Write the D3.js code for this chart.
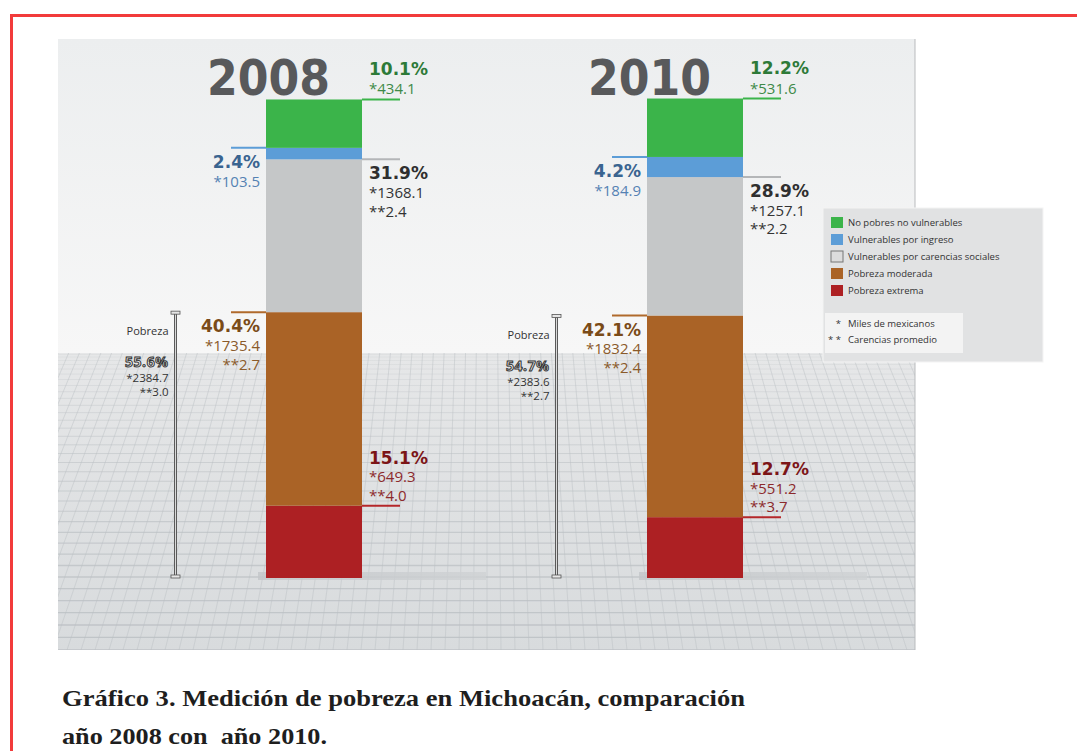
<!DOCTYPE html>
<html>

<head>
  <meta charset="utf-8">
  <script src="https://cdnjs.cloudflare.com/ajax/libs/d3/7.8.5/d3.min.js"></script>
  <style>
    body {
      margin: 0;
      padding: 0;
      background: #fff;
    }

    .pct {
      font-family: "DejaVu Sans", sans-serif;
      font-weight: bold;
      font-size: 17px;
    }

    .sub {
      font-family: "Open Sans", sans-serif;
      font-size: 15px;
    }

    .legend text {
      font-family: "Open Sans", sans-serif;
      font-size: 9.5px;
      fill: #333;
    }

    .caption {
      font-family: "Liberation Serif", "Times New Roman", serif;
      font-weight: bold;
      font-size: 23px;
      fill: #1e1e1e;
      white-space: pre;
    }
  </style>
</head>

<body>
  <svg width="1077" height="751"></svg>
  <script>
    //chart data
    const years = ["2008", "2010"];
    const categories = ["No pobres no vulnerables", "Vulnerables por ingreso", "Vulnerables por carencias sociales", "Pobreza moderada", "Pobreza extrema"];
    const pct2008 = [10.1, 2.4, 31.9, 40.4, 15.1];
    const pct2010 = [12.2, 4.2, 28.9, 42.1, 12.7];
    const miles2008 = [434.1, 103.5, 1368.1, 1735.4, 649.3];
    const miles2010 = [531.6, 184.9, 1257.1, 1832.4, 551.2];
    const carencias2008 = [null, null, 2.4, 2.7, 4.0];
    const carencias2010 = [null, null, 2.2, 2.4, 3.7];
    const pobrezaPct = [55.6, 54.7];
    const pobrezaMiles = [2384.7, 2383.6];
    const pobrezaCarencias = [3.0, 2.7];
    const notes = ["Miles de mexicanos", "Carencias promedio"];

    //styles per category
    const barColors = ["#3bb44a", "#5c9dd7", "#c5c7c8", "#aa6326", "#ad2023"];
    const lineColors = ["#3bb44a", "#5c9dd7", "#b4b6b8", "#b06a2c", "#b5272a"];
    const pctColors = ["#2d7a38", "#3a6490", "#2f2f2f", "#7a4b18", "#7c1517"];
    const subColors = ["#3e8a48", "#5582b3", "#333333", "#8a5a2a", "#8c2a2c"];
    const side = ["right", "left", "right", "left", "right"];
    const above = [true, false, false, false, true];

    let svg = d3.select("svg");
    let fmt = d3.format(".1f");

    //panel geometry
    let panel = { x: 58, y: 39, w: 857, h: 611 },
      horizon = 353,
      baseY = 578,
      topY = 99;

    //scales
    let x = d3.scaleBand()
      .domain(years)
      .range([266, 743])
      .paddingInner(1 - 96 / 381);
    let y = d3.scaleLinear()
      .domain([0, 100])
      .range([baseY, topY]);

    let defs = svg.append("defs");
    let sky = defs.append("linearGradient").attr("id", "sky").attr("x1", 0).attr("y1", 0).attr("x2", 0).attr("y2", 1);
    sky.append("stop").attr("offset", "0%").attr("stop-color", "#eceeef");
    sky.append("stop").attr("offset", "100%").attr("stop-color", "#f7f7f7");
    let floor = defs.append("linearGradient").attr("id", "floor").attr("x1", 0).attr("y1", 0).attr("x2", 0).attr("y2", 1);
    floor.append("stop").attr("offset", "0%").attr("stop-color", "#e6e7e8");
    floor.append("stop").attr("offset", "100%").attr("stop-color", "#d8dbdd");
    let shade = defs.append("linearGradient").attr("id", "shade").attr("x1", 0).attr("y1", 0).attr("x2", 1).attr("y2", 0);
    shade.append("stop").attr("offset", "0%").attr("stop-color", "#c3c6c9");
    shade.append("stop").attr("offset", "100%").attr("stop-color", "#cfd2d4");
    defs.append("clipPath").attr("id", "floorClip")
      .append("rect")
      .attr("x", panel.x).attr("y", horizon)
      .attr("width", panel.w).attr("height", panel.y + panel.h - horizon);

    //red frame
    svg.append("path")
      .attr("d", "M11.5,751V15.5H1077")
      .attr("fill", "none")
      .attr("stroke", "#f23b3b")
      .attr("stroke-width", 3);

    //background panel
    svg.append("rect")
      .attr("x", panel.x).attr("y", panel.y)
      .attr("width", panel.w).attr("height", horizon - panel.y)
      .attr("fill", "url(#sky)");
    svg.append("rect")
      .attr("x", panel.x).attr("y", horizon)
      .attr("width", panel.w).attr("height", panel.y + panel.h - horizon)
      .attr("fill", "url(#floor)");
    svg.append("line")
      .attr("x1", panel.x + panel.w).attr("x2", panel.x + panel.w)
      .attr("y1", panel.y).attr("y2", panel.y + panel.h)
      .attr("stroke", "#b9bbbd");

    //perspective floor grid (decoration)
    let grid = svg.append("g").attr("clip-path", "url(#floorClip)");
    let floorH = panel.y + panel.h - horizon;
    d3.range(1, 36).forEach(function(i) {
      let t = i / 35;
      grid.append("line")
        .attr("x1", panel.x).attr("x2", panel.x + panel.w)
        .attr("y1", horizon + floorH * Math.pow(t, 1.5))
        .attr("y2", horizon + floorH * Math.pow(t, 1.5))
        .attr("stroke", "#b8bdc1")
        .attr("stroke-width", 0.5 + t)
        .attr("opacity", 0.25 + 0.5 * t);
    });
    let vp = { x: 487, y: -620 };
    d3.range(-40, 41).forEach(function(k) {
      let xb = vp.x + k * 14,
        yb = panel.y + panel.h;
      let xh = vp.x + (xb - vp.x) * (horizon - vp.y) / (yb - vp.y);
      grid.append("line")
        .attr("x1", xh).attr("y1", horizon)
        .attr("x2", xb).attr("y2", yb)
        .attr("stroke", "#bcc1c5")
        .attr("stroke-width", 0.8)
        .attr("opacity", 0.6);
    });

    //table of stacked values
    let pctByYear = [pct2008, pct2010],
      milesByYear = [miles2008, miles2010],
      carByYear = [carencias2008, carencias2010];
    let table = years.map(function(yr, j) {
      let row = { year: yr };
      categories.forEach(function(c, i) { row[c] = pctByYear[j][i]; });
      return row;
    });
    let stack = d3.stack().keys(categories.slice().reverse());
    let series = stack(table);

    //floor shadows under each bar
    svg.selectAll(".shadow")
      .data(years)
      .enter()
      .append("rect")
      .attr("class", "shadow")
      .attr("x", function(d) { return x(d) - 8; })
      .attr("y", baseY - 6)
      .attr("width", 228)
      .attr("height", 8)
      .attr("fill", "url(#shade)")
      .attr("opacity", 0.8);

    //stacked bars
    let layer = svg.selectAll(".layer")
      .data(series)
      .enter()
      .append("g")
      .attr("class", "layer")
      .attr("fill", function(d) { return barColors[categories.indexOf(d.key)]; });
    layer.selectAll("rect")
      .data(function(d) { return d; })
      .enter()
      .append("rect")
      .attr("x", function(d) { return x(d.data.year); })
      .attr("y", function(d) { return y(d[1]); })
      .attr("width", x.bandwidth())
      .attr("height", function(d) { return y(d[0]) - y(d[1]); });

    //year titles
    svg.selectAll(".year")
      .data(years)
      .enter()
      .append("text")
      .attr("class", "year")
      .attr("x", function(d) { return x(d) - 59; })
      .attr("y", topY - 4)
      .attr("textLength", 123)
      .attr("lengthAdjust", "spacingAndGlyphs")
      .style("font", "bold 50px 'DejaVu Sans', sans-serif")
      .attr("fill", "#58595b")
      .text(function(d) { return d; });

    //segment labels with leader lines
    years.forEach(function(yr, j) {
      let x0 = x(yr),
        x1 = x0 + x.bandwidth();
      categories.forEach(function(c, i) {
        let s = series.find(function(d) { return d.key === c; })[j];
        let top = y(s[1]);
        let right = side[i] === "right";
        svg.append("line")
          .attr("x1", right ? x1 : x0 - 35)
          .attr("x2", right ? x1 + 38 : x0)
          .attr("y1", top).attr("y2", top)
          .attr("stroke", lineColors[i])
          .attr("stroke-width", 2);

        let lines = [{ t: fmt(pctByYear[j][i]) + "%", cls: "pct", col: pctColors[i] },
          { t: "*" + fmt(milesByYear[j][i]), cls: "sub", col: subColors[i] }];
        if (carByYear[j][i] != null) lines.push({ t: "**" + fmt(carByYear[j][i]), cls: "sub", col: subColors[i] });
        let n = lines.length;
        lines.forEach(function(l, k) {
          let by = above[i] ? top - 5 - 18.5 * (n - 1 - k) : top + 20 + 18.7 * k;
          if (above[i] && k === 0 && n === 2) by -= 1;
          svg.append("text")
            .attr("class", l.cls)
            .attr("x", right ? x1 + 7 : x0 - 6)
            .attr("y", by)
            .attr("text-anchor", right ? "start" : "end")
            .attr("fill", l.col)
            .text(l.t);
        });
      });

      //pobreza bracket
      let pobTop = y(pctByYear[j][3] + pctByYear[j][4]),
        bx = x0 - 90.5;
      svg.append("line")
        .attr("x1", bx).attr("x2", bx)
        .attr("y1", pobTop).attr("y2", baseY - 1)
        .attr("stroke", "#5a5a5a").attr("stroke-width", 3);
      svg.append("line")
        .attr("x1", bx).attr("x2", bx)
        .attr("y1", pobTop + 2).attr("y2", baseY - 3)
        .attr("stroke", "#d9d9d9").attr("stroke-width", 1);
      [pobTop - 1, baseY - 3].forEach(function(cy) {
        svg.append("rect")
          .attr("x", bx - 4.5).attr("y", cy)
          .attr("width", 9).attr("height", 3)
          .attr("fill", "#e6e6e6")
          .attr("stroke", "#555").attr("stroke-width", 0.8);
      });
      let lx = bx - 7;
      svg.append("text")
        .attr("x", lx).attr("y", pobTop + 23)
        .attr("text-anchor", "end")
        .style("font", "11px 'Open Sans', sans-serif")
        .attr("fill", "#333")
        .text("Pobreza");
      svg.append("text")
        .attr("x", lx).attr("y", pobTop + 55)
        .attr("text-anchor", "end")
        .style("font", "bold 14px 'Open Sans', sans-serif")
        .style("letter-spacing", "0.6px")
        .attr("fill", "#eeeeee")
        .attr("stroke", "#333")
        .attr("stroke-width", 1)
        .text(fmt(pobrezaPct[j]) + "%");
      svg.append("text")
        .attr("x", lx).attr("y", pobTop + 70)
        .attr("text-anchor", "end")
        .style("font", "11.5px 'Open Sans', sans-serif")
        .attr("fill", "#333")
        .text("*" + fmt(pobrezaMiles[j]));
      svg.append("text")
        .attr("x", lx).attr("y", pobTop + 84)
        .attr("text-anchor", "end")
        .style("font", "11.5px 'Open Sans', sans-serif")
        .attr("fill", "#333")
        .text("**" + fmt(pobrezaCarencias[j]));
    });

    //legend
    let legend = svg.append("g")
      .attr("class", "legend")
      .attr("transform", "translate(823,208)");
    legend.append("rect")
      .attr("width", 220).attr("height", 154)
      .attr("fill", "#e1e2e3")
      .attr("stroke", "#f4f4f4");
    let item = legend.selectAll(".item")
      .data(categories)
      .enter()
      .append("g")
      .attr("class", "item")
      .attr("transform", function(d, i) { return "translate(8," + (9 + i * 17) + ")"; });
    item.append("rect")
      .attr("width", 12).attr("height", 11)
      .attr("fill", function(d, i) { return i === 2 ? "#dcdcdc" : barColors[i]; })
      .attr("stroke", function(d, i) { return i === 2 ? "#777" : "none"; });
    item.append("text")
      .attr("x", 17).attr("y", 9)
      .text(function(d) { return d; });
    legend.append("rect")
      .attr("x", 2).attr("y", 105)
      .attr("width", 138).attr("height", 40)
      .attr("fill", "#f3f3f3");
    legend.selectAll(".note")
      .data(notes)
      .enter()
      .append("text")
      .attr("class", "note")
      .attr("x", 25)
      .attr("y", function(d, i) { return 119 + i * 16; })
      .text(function(d) { return d; });
    legend.selectAll(".star")
      .data(notes)
      .enter()
      .append("text")
      .attr("class", "star")
      .attr("x", 18)
      .attr("y", function(d, i) { return 119 + i * 16; })
      .attr("text-anchor", "end")
      .text(function(d, i) { return i === 0 ? "*" : "* *"; });

    //caption
    svg.append("text")
      .attr("class", "caption")
      .attr("x", 62).attr("y", 706)
      .attr("textLength", 683)
      .attr("lengthAdjust", "spacingAndGlyphs")
      .text("Gráfico 3. Medición de pobreza en Michoacán, comparación");
    svg.append("text")
      .attr("class", "caption")
      .attr("x", 62).attr("y", 744)
      .attr("textLength", 265)
      .attr("lengthAdjust", "spacingAndGlyphs")
      .text("año 2008 con  año 2010.");
  </script>
</body>

</html>
